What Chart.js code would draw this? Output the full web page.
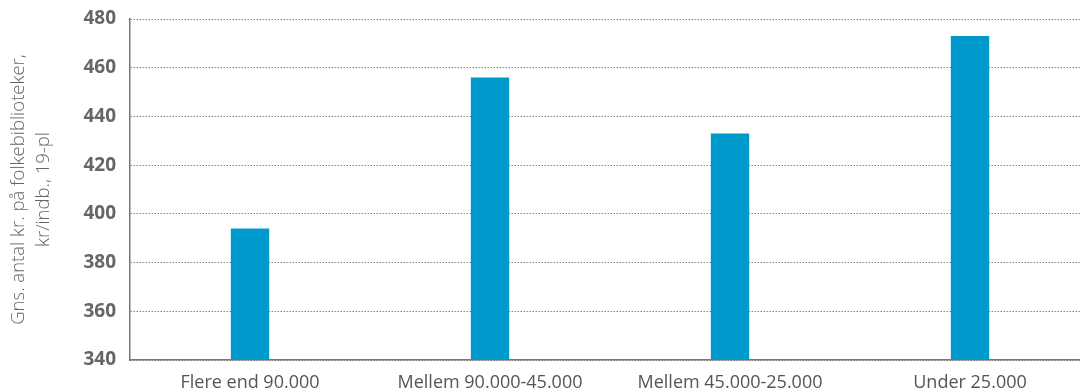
<!DOCTYPE html>
<html>
<head>
<meta charset="utf-8">
<script src="https://cdn.jsdelivr.net/npm/chart.js@4"></script>
<style>
  html, body { margin: 0; padding: 0; background: #fff; overflow: hidden; }
  #wrap { width: 1100px; height: 392px; }
</style>
</head>
<body>
<div id="wrap"><canvas id="myChart" width="1100" height="392"></canvas></div>
<script>
// Kategorier og værdier
const categories = ["Flere end 90.000", "Mellem 90.000-45.000", "Mellem 45.000-25.000", "Under 25.000"];
const values = [394, 456, 433, 473];
const yTitle = ["Gns. antal kr. på folkebiblioteker,", "kr/indb., 19-pl"];

new Chart("myChart", {
  type: "bar",
  data: {
    labels: categories,
    datasets: [{
      data: values,
      backgroundColor: "#0099cc",
      barPercentage: 0.16,
      categoryPercentage: 1.0
    }]
  },
  options: {
    responsive: false,
    animation: false,
    layout: { padding: { top: 19, right: 10, left: 0, bottom: 0 } },
    plugins: { legend: { display: false }, tooltip: { enabled: false } },
    scales: {
      x: {
        grid: { display: false, drawTicks: false },
        border: { color: "#777", width: 1.5 },
        ticks: { color: "#555", font: { family: "Open Sans", size: 18 }, padding: 12 },
        afterFit: (s) => { s.height = 32; }
      },
      y: {
        min: 340,
        max: 480,
        ticks: { stepSize: 20, color: "#666", font: { family: "Open Sans", size: 19, weight: "bold" }, padding: 14 },
        grid: { color: "#888", lineWidth: 1, drawTicks: false },
        border: { color: "#777", width: 1.5, dash: [1.5, 1.5] },
        title: {
          display: true,
          text: yTitle,
          color: "#666",
          font: { family: "Open Sans", size: 18.5, weight: "300", lineHeight: 1.35 },
          padding: { top: 6, bottom: 0 }
        },
        afterFit: (s) => { s.width = 130; s.paddingTop = 0; s.paddingBottom = 0; }
      }
    }
  }
});
</script>
</body>
</html>
